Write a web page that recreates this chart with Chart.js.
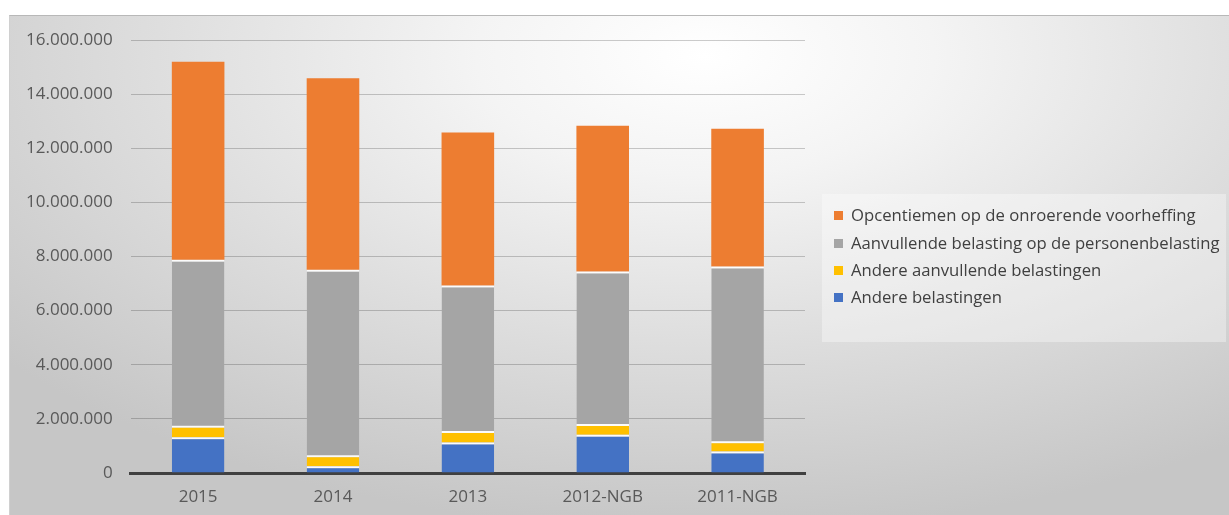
<!DOCTYPE html>
<html>
<head>
<meta charset="utf-8">
<script src="https://cdn.jsdelivr.net/npm/chart.js@4.4.1/dist/chart.umd.min.js"></script>
<style>
  html, body { margin: 0; padding: 0; background: #ffffff; }
  #wrap { position: relative; width: 1229px; height: 515px; overflow: hidden; }
  #frame {
    position: absolute; left: 9px; top: 15px; width: 1220px; height: 500px;
    border-top: 1px solid #b8b8b8; border-left: 1px solid #d0d0d0;
    background: radial-gradient(ellipse 75% 95% at 57% 8%, #ffffff 0%, #f4f4f4 25%, #dedede 60%, #c6c6c6 100%);
  }
  #c { position: absolute; left: 0; top: 0; }
  #legend {
    position: absolute; left: 822px; top: 194px; width: 404px; height: 148px;
    background: rgba(255,255,255,0.35);
    font-family: "Open Sans", sans-serif; font-size: 16.7px; color: #404040;
  }
  .item { position: absolute; left: 12px; height: 20px; line-height: 20px; white-space: nowrap; }
  .sw { display: inline-block; width: 9px; height: 9px; margin-right: 8px; vertical-align: 1px; }
</style>
</head>
<body>
<div id="wrap">
  <div id="frame"></div>
  <canvas id="c" width="1229" height="515"></canvas>
  <div id="legend"></div>
</div>
<script>
const categories = ["2015", "2014", "2013", "2012-NGB", "2011-NGB"];
const andereBelastingen = [1320000, 250000, 1130000, 1410000, 790000];
const andereAanvullende = [430000, 410000, 420000, 400000, 380000];
const aanvullendePB = [6130000, 6850000, 5380000, 5640000, 6460000];
const opcentiemenOV = [7320000, 7080000, 5650000, 5380000, 5090000];
const seriesNames = [
  "Andere belastingen",
  "Andere aanvullende belastingen",
  "Aanvullende belasting op de personenbelasting",
  "Opcentiemen op de onroerende voorheffing"
];
const seriesColors = ["#4472C4", "#FFC000", "#A5A5A5", "#ED7D31"];
const yTicks = [0, 2000000, 4000000, 6000000, 8000000, 10000000, 12000000, 14000000, 16000000];

function fmt(v) {
  return String(Math.round(v)).replace(/\B(?=(\d{3})+(?!\d))/g, ".");
}

const seriesValues = [andereBelastingen, andereAanvullende, aanvullendePB, opcentiemenOV];
const datasets = seriesValues.map((vals, i) => ({
  label: seriesNames[i],
  data: vals,
  backgroundColor: seriesColors[i],
  borderColor: "rgba(255,255,255,0.9)",
  borderWidth: { top: i === 3 ? 0 : 2, left: 0, right: 0, bottom: 0 },
  borderSkipped: false,
  barPercentage: 0.39,
  categoryPercentage: 1.0
}));

new Chart(document.getElementById("c"), {
  type: "bar",
  data: { labels: categories, datasets: datasets },
  options: {
    responsive: false,
    animation: false,
    layout: { padding: { left: 8, right: 424, top: 40, bottom: -7 } },
    plugins: { legend: { display: false }, tooltip: { enabled: false } },
    scales: {
      x: {
        stacked: true,
        grid: { display: false, drawTicks: false },
        border: { display: true, color: "#404040", width: 3 },
        ticks: { color: "#595959", font: { family: "Open Sans", size: 17, lineHeight: 1 }, padding: 16 }
      },
      y: {
        stacked: true,
        min: 0, max: 16000000,
        afterBuildTicks: (scale) => { scale.ticks = yTicks.map(v => ({ value: v })); },
        grid: { color: "rgba(0,0,0,0.2)", lineWidth: 1, drawTicks: false },
        border: { display: false },
        ticks: {
          color: "#595959", font: { family: "Open Sans", size: 17 }, padding: 18,
          callback: (v) => fmt(v)
        }
      }
    }
  }
});

const legend = document.getElementById("legend");
const order = [3, 2, 1, 0];
const tops = [11, 39, 66, 93];
order.forEach((idx, k) => {
  const d = document.createElement("div");
  d.className = "item";
  d.style.top = tops[k] + "px";
  const sw = document.createElement("span");
  sw.className = "sw";
  sw.style.background = seriesColors[idx];
  d.appendChild(sw);
  d.appendChild(document.createTextNode(seriesNames[idx]));
  legend.appendChild(d);
});
</script>
</body>
</html>
